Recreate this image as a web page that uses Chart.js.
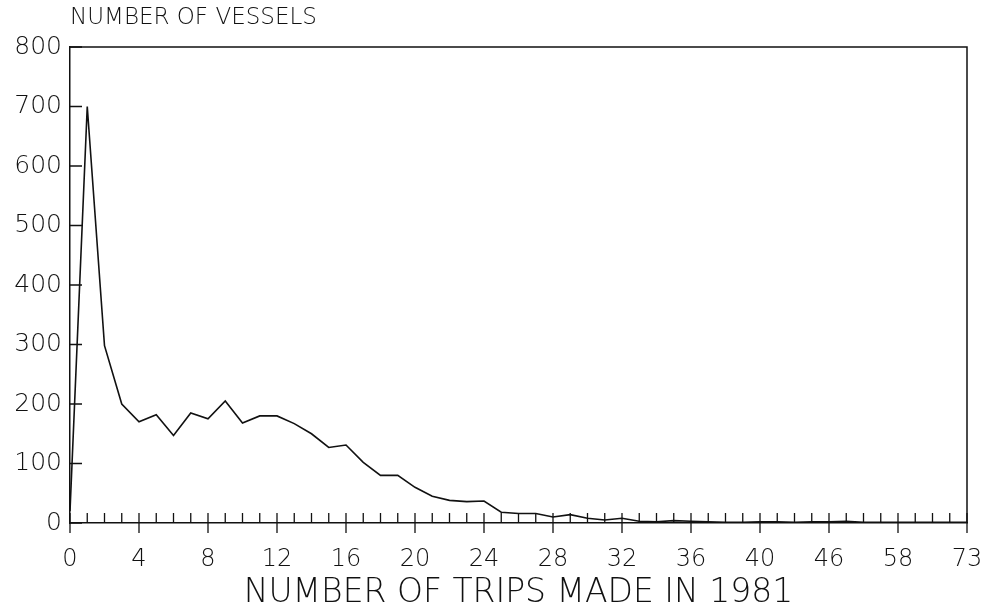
<!DOCTYPE html>
<html>
<head>
<meta charset="utf-8">
<script src="https://cdn.jsdelivr.net/npm/chart.js@4.4.1/dist/chart.umd.min.js"></script>
<style>
  html, body { margin: 0; padding: 0; background: #fff; }
  #wrap { width: 987px; height: 616px; }
</style>
</head>
<body>
<div id="wrap"><canvas id="chart" width="987" height="616"></canvas></div>
<script>
// trips per vessel, 1981 (after 40 only some trip counts occur)
const trips = [
  0, 1, 2, 3, 4, 5, 6, 7, 8, 9, 10, 11, 12, 13, 14, 15, 16, 17, 18, 19, 20,
  21, 22, 23, 24, 25, 26, 27, 28, 29, 30, 31, 32, 33, 34, 35, 36, 37, 38, 39, 40,
  41, 42, 43, 46, 47, 50, 52, 58, 60, 62, 65, 73
];
const vessels = [
  20, 700, 298, 200, 170, 182, 147, 185, 175, 205, 168, 180, 180, 167, 150, 127, 131, 102, 80, 80, 60,
  45, 38, 36, 37, 18, 16, 16, 10, 14, 8, 5, 8, 3, 2, 4, 3, 2, 1, 1, 2,
  2, 1, 2, 2, 3, 1, 1, 1, 1, 1, 1, 1
];
const yTicks = [0, 100, 200, 300, 400, 500, 600, 700, 800];
const labelEvery = 4;

const FONT = "'DejaVu Sans', 'Liberation Sans', sans-serif";
const INK = "#111";

const frame = {
  id: "frame",
  afterDraw(chart) {
    const { ctx, chartArea: a } = chart;
    const xs = chart.scales.x, ys = chart.scales.y;
    ctx.save();
    ctx.strokeStyle = INK;
    ctx.lineWidth = 1.5;
    // top + right edges
    ctx.beginPath();
    ctx.moveTo(a.left, a.top);
    ctx.lineTo(a.right, a.top);
    ctx.lineTo(a.right, a.bottom);
    ctx.stroke();
    // x ticks point up, labelled ones also hang below
    ctx.lineWidth = 1.3;
    ctx.beginPath();
    trips.forEach((t, i) => {
      const x = xs.getPixelForValue(i);
      ctx.moveTo(x, a.bottom - 10);
      ctx.lineTo(x, a.bottom + (i % labelEvery === 0 ? 10 : 0));
    });
    // y ticks point inward
    yTicks.forEach((v) => {
      const y = ys.getPixelForValue(v);
      ctx.moveTo(a.left, y);
      ctx.lineTo(a.left + 12, y);
    });
    ctx.stroke();
    // y title, top left
    ctx.fillStyle = INK;
    ctx.font = "200 23px " + FONT;
    ctx.textAlign = "left";
    ctx.textBaseline = "middle";
    ctx.fillText("NUMBER OF VESSELS", a.left, 18);
    ctx.restore();
  },
};

new Chart(document.getElementById("chart"), {
  type: "line",
  data: {
    labels: trips.map(String),
    datasets: [
      {
        data: vessels,
        borderColor: INK,
        borderWidth: 1.6,
        pointRadius: 0,
        tension: 0,
        fill: false,
      },
    ],
  },
  options: {
    responsive: false,
    animation: false,
    layout: { padding: { top: 47, right: 0, left: 0, bottom: 0 } },
    plugins: { legend: { display: false }, tooltip: { enabled: false } },
    scales: {
      x: {
        type: "category",
        offset: false,
        grid: { display: false, drawTicks: false },
        border: { display: true, color: INK, width: 1.5 },
        ticks: {
          autoSkip: false,
          maxRotation: 0,
          padding: 22,
          color: INK,
          font: { family: FONT, size: 24, weight: 200 },
          callback: (v, i) => (i % labelEvery === 0 ? trips[i] : ""),
        },
        title: {
          display: true,
          text: "NUMBER OF TRIPS MADE IN 1981",
          color: INK,
          font: { family: FONT, size: 33, weight: 200 },
          padding: { top: 2, bottom: 3 },
        },
        afterFit: (s) => {
          s.height = 93;
          s.paddingLeft = 0;
          s.paddingRight = 20;
        },
      },
      y: {
        min: 0,
        max: 800,
        grid: { display: false, drawTicks: false },
        border: { display: true, color: INK, width: 1.5 },
        afterBuildTicks: (s) => { s.ticks = yTicks.map((v) => ({ value: v })); },
        ticks: {
          padding: 8,
          color: INK,
          font: { family: FONT, size: 25, weight: 200 },
        },
        afterFit: (s) => { s.width = 70; },
      },
    },
  },
  plugins: [frame],
});
</script>
</body>
</html>
